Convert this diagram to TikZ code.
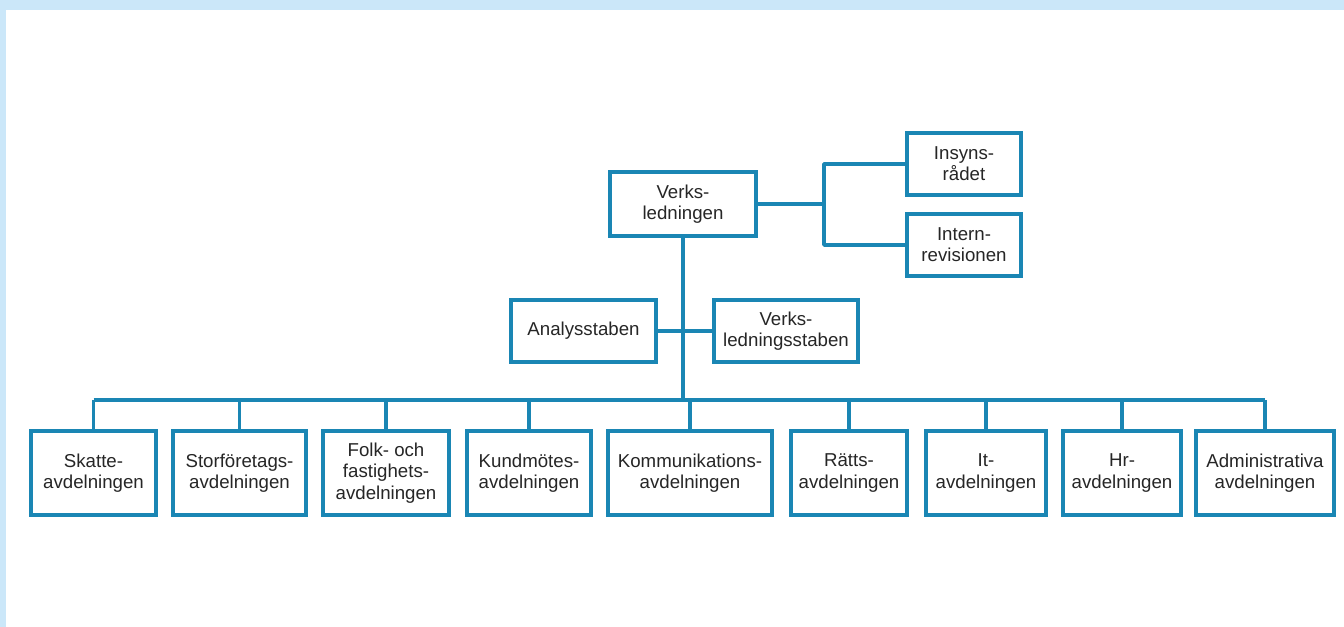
\documentclass[tikz,border=0pt]{standalone}
\usepackage{fontspec}
\setmainfont{Liberation Sans}
\usetikzlibrary{positioning}
\definecolor{orgblue}{RGB}{26,134,180}
\definecolor{bandblue}{RGB}{203,231,249}

\begin{document}
\begin{tikzpicture}[x=0.75pt,y=-0.75pt,
    box/.style={draw=orgblue,line width=2.8pt,fill=white,align=center,inner sep=2pt,
      text=black!85,font=\fontsize{14}{16}\selectfont},
    link/.style={draw=orgblue,line width=2.8pt,line join=round}]
  \fill[bandblue] (0,0) rectangle (1344,627);
  \fill[white] (6,10) rectangle (1344,627);
  \useasboundingbox (0,0) rectangle (1344,627);

  % top level
  \node[box,minimum width=109pt,minimum height=48pt] (verks) at (683,204) {Verks-\\ledningen};
  \node[box,minimum width=85pt,minimum height=47pt] (insyn) at (964,164) {Insyns-\\rådet};
  \node[box,minimum width=85pt,minimum height=46.5pt] (intern) at (964,245) {Intern-\\revisionen};
  \coordinate (split) at (824,204);
  \draw[link] (verks.east) -- (split) |- (insyn.west);
  \draw[link] (split) |- (intern.west);

  % staber
  \node[box,minimum width=108.5pt,minimum height=46.5pt] (analys) at (583.5,331) {Analysstaben};
  \node[box,minimum width=108.5pt,minimum height=46.5pt] (vstab) at (786,331) {Verks-\\ledningsstaben};
  \draw[link] (analys.east) -- (vstab.west);

  % avdelningar
  \node[box,minimum width=93.5pt,minimum height=63pt] (skatte) at (93.5,473) {Skatte-\\avdelningen};
  \node[box,minimum width=99.5pt,minimum height=63pt] (storf) at (239.5,473) {Storföretags-\\avdelningen};
  \node[box,minimum width=94.5pt,minimum height=63pt] (folk) at (386,473) {Folk- och\\fastighets-\\avdelningen};
  \node[box,minimum width=93pt,minimum height=63pt] (kund) at (529,473) {Kundmötes-\\avdelningen};
  \node[box,minimum width=123pt,minimum height=63pt] (komm) at (690,473) {Kommunikations-\\avdelningen};
  \node[box,minimum width=87pt,minimum height=63pt] (ratts) at (849,473) {Rätts-\\avdelningen};
  \node[box,minimum width=90pt,minimum height=63pt] (it) at (986,473) {It-\\avdelningen};
  \node[box,minimum width=88.5pt,minimum height=63pt] (hr) at (1122,473) {Hr-\\avdelningen};
  \node[box,minimum width=103.5pt,minimum height=63pt] (admin) at (1265,473) {Administrativa\\avdelningen};

  \coordinate (bus) at (686,400);
  \draw[link] (verks.south) -- (verks.south |- bus);
  \draw[link] (skatte.north |- bus) -- (admin.north |- bus);
  \foreach \n in {skatte,storf,folk,kund,komm,ratts,it,hr,admin}
    \draw[link] (\n.north) -- (\n.north |- bus);
\end{tikzpicture}
\end{document}
